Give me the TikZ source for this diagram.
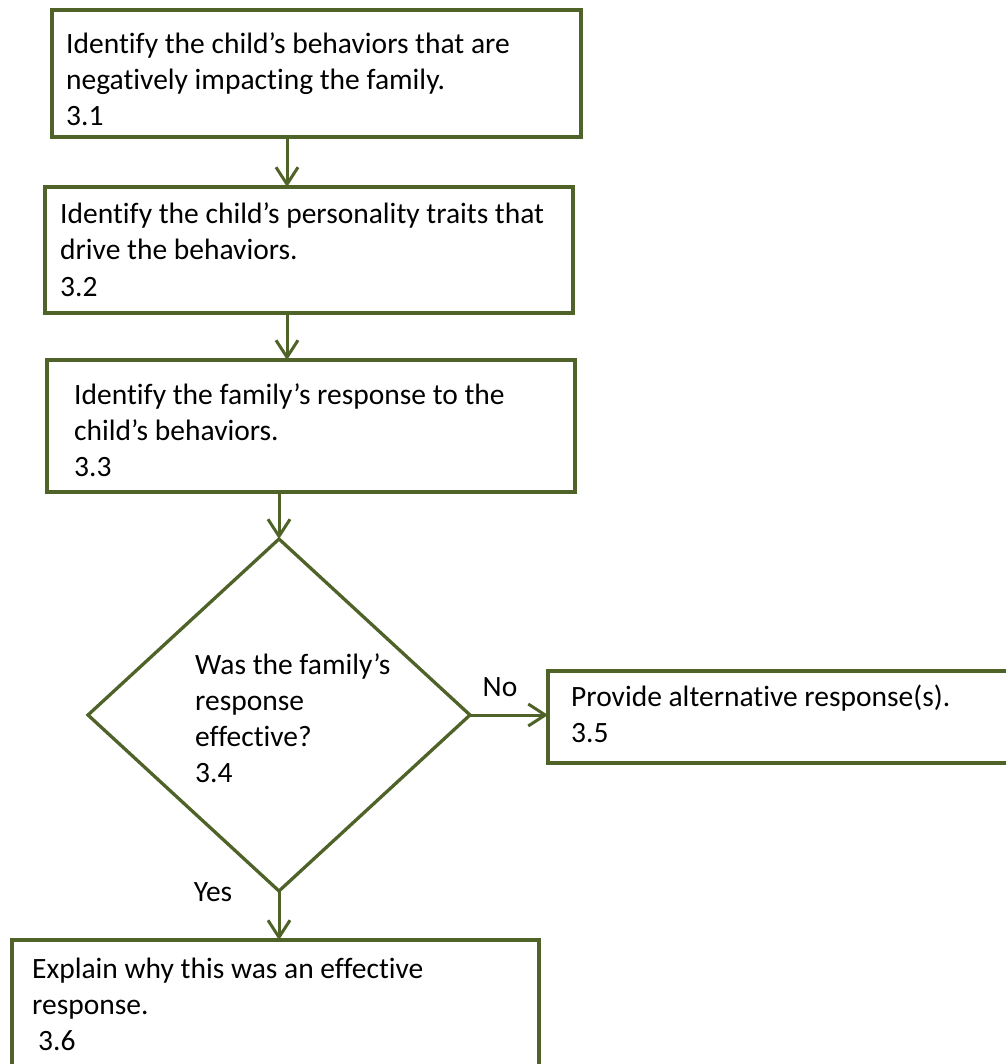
\documentclass[tikz,border=0pt]{standalone}
\usepackage{fontspec}
\setmainfont{Carlito}[Ligatures={NoCommon}]
\usetikzlibrary{arrows.meta,shapes.geometric}
\definecolor{olive}{RGB}{79,98,40}
\begin{document}
\begin{tikzpicture}[x=1pt,y=-1pt,
  stepbox/.style={draw=olive, line width=3.3pt, rectangle, inner sep=0pt, outer sep=0pt},
  decision/.style={draw=olive, line width=3.3pt, diamond, inner sep=0pt, outer sep=0pt},
  flow/.style={draw=olive, line width=3pt, -{Straight Barb[length=17pt,width=22pt,line width=3pt]}},
  txt/.style={font=\fontsize{29.5}{36}\selectfont, align=left, anchor=north west, inner sep=0pt},
  lbl/.style={font=\fontsize{29.5}{36}\selectfont, inner sep=0pt}]
\useasboundingbox (0,0) rectangle (1005,1064);

% process boxes
\node[stepbox, minimum width=529pt, minimum height=127pt] (b1) at (316.5,73.5) {};
\node[stepbox, minimum width=528pt, minimum height=126pt] (b2) at (309,250) {};
\node[stepbox, minimum width=528pt, minimum height=132pt] (b3) at (311,426) {};
\node[decision, minimum width=382pt, minimum height=352pt] (d4) at (279,715) {};
\node[stepbox, minimum width=467pt, minimum height=92pt] (b5) at (781.5,717) {};
\node[stepbox, minimum width=527pt, minimum height=140pt] (b6) at (275.5,1010) {};

% box texts
\node[txt] (t1) at (66,33) {Identify the child’s behaviors that are\\negatively impacting the family.\\3.1};
\node[txt] (t2) at (60,203) {Identify the child’s personality traits that\\drive the behaviors.\\3.2};
\node[txt] (t3) at (74,383) {Identify the family’s response to the\\child’s behaviors.\\3.3};
\node[txt] (t4) at (195,653) {Was the family’s\\response\\effective?\\3.4};
\node[txt] (t5) at (571,685) {Provide alternative response(s).\\3.5};
\node[txt] (t6) at (32,958) {Explain why this was an effective\\response.\\\hspace*{6pt}3.6};

% connectors
\coordinate (spine) at (287,0);
\draw[flow] (b1.south -| spine) -- (b2.north -| spine);
\draw[flow] (b2.south -| spine) -- (b3.north -| spine);
\draw[flow] (b3.south -| d4.north) -- (d4.north);
\draw[flow] (d4.east) -- (d4.east -| b5.west);
\draw[flow] (d4.south) -- (b6.north -| d4.south);

% branch labels
\node[lbl] (no) at (500,687) {No};
\node[lbl] (yes) at (213,892) {Yes};
\end{tikzpicture}
\end{document}
